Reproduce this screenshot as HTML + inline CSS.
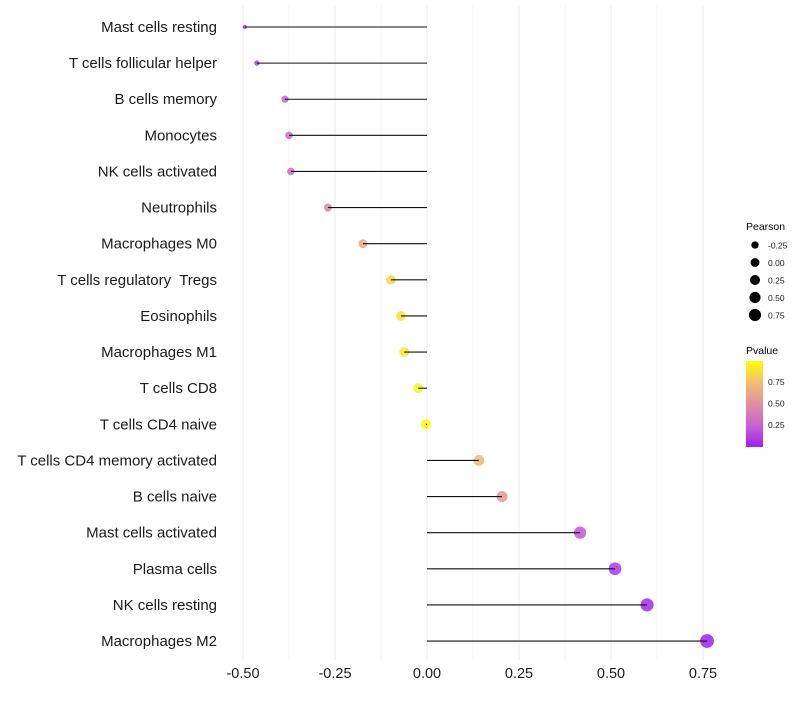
<!DOCTYPE html>
<html><head><meta charset="utf-8"><style>
body{margin:0;background:#fff;font-family:"Liberation Sans",sans-serif}
text{white-space:pre}
</style></head><body>
<svg id="chart" width="800" height="700" xmlns="http://www.w3.org/2000/svg" font-family="Liberation Sans, sans-serif">
<g id="grid"></g><g id="points"></g><g id="stems"></g><g id="ylabels"></g><g id="xticks"></g>
<g id="legend">
<text x="746" y="230" font-size="10.5">Pearson</text>
<g id="sizeLegend"></g>
<text x="746" y="354" font-size="10.5">Pvalue</text>
<defs><linearGradient id="pg" x1="0" y1="1" x2="0" y2="0">
<stop offset="0" stop-color="#A020F0"/><stop offset="0.25" stop-color="#C862D2"/><stop offset="0.5" stop-color="#E0909E"/><stop offset="0.75" stop-color="#F2BE72"/><stop offset="1" stop-color="#FFFF00"/></linearGradient></defs>
<rect x="746" y="361" width="17" height="86" fill="url(#pg)"/>
<g id="colorTicks"></g>
</g>
</svg>
<script>
const categories=["Mast cells resting","T cells follicular helper","B cells memory","Monocytes","NK cells activated","Neutrophils","Macrophages M0","T cells regulatory  Tregs","Eosinophils","Macrophages M1","T cells CD8","T cells CD4 naive","T cells CD4 memory activated","B cells naive","Mast cells activated","Plasma cells","NK cells resting","Macrophages M2"];
const pearson=[-0.495,-0.462,-0.386,-0.375,-0.370,-0.269,-0.174,-0.098,-0.071,-0.062,-0.024,-0.003,0.141,0.204,0.416,0.511,0.598,0.761];
const pvalue=[0.05,0.1,0.25,0.27,0.28,0.45,0.65,0.85,0.88,0.9,0.95,0.99,0.7,0.55,0.2,0.08,0.03,0.001];
const xTicks=[-0.5,-0.25,0,0.25,0.5,0.75];
const xTickLabels=["-0.50","-0.25","0.00","0.25","0.50","0.75"];
const sizeLegendVals=[-0.25,0,0.25,0.5,0.75];
const sizeLegendLabels=["-0.25","0.00","0.25","0.50","0.75"];
const colorTickVals=[0.25,0.5,0.75];
const NS="http://www.w3.org/2000/svg";
const xs=v=>427+v*368;
const ys=i=>27+i*36.12;
const rs=v=>Math.sqrt(Math.max(2,25+30*v-60*Math.max(0,-0.4-v)));
const stops=[[0,[160,32,240]],[0.25,[200,98,210]],[0.5,[224,144,158]],[0.75,[242,190,114]],[1,[255,255,0]]];
function col(p){for(let i=1;i<stops.length;i++){if(p<=stops[i][0]){const a=stops[i-1],b=stops[i];const t=(p-a[0])/(b[0]-a[0]);const c=a[1].map((x,k)=>Math.round(x+(b[1][k]-x)*t));return `rgb(${c})`;}}return "rgb(255,255,0)";}
function mk(t,attrs,parent){const e=document.createElementNS(NS,t);for(const k in attrs)e.setAttribute(k,attrs[k]);document.getElementById(parent).appendChild(e);return e;}
for(let v=-0.5;v<=0.751;v+=0.125){
 const g=mk("line",{x1:xs(v),x2:xs(v),y1:5,y2:660,stroke:Math.abs(v*4-Math.round(v*4))<0.01?"#ebebeb":"#f4f4f4","stroke-width":1},"grid");
 
 
}
categories.forEach((c,i)=>{
 const y=ys(i);
 const p=mk("circle",{cx:xs(pearson[i]),cy:y,r:rs(pearson[i]),fill:col(pvalue[i]),"fill-opacity":0.85},"points");
 
 
 const l=mk("line",{x1:xs(0),x2:xs(pearson[i]),y1:y,y2:y,stroke:"#111","stroke-width":1.1},"stems");
 
 
 const t=mk("text",{x:217,y:y+5,"text-anchor":"end","font-size":15,fill:"#1a1a1a"},"ylabels");
 t.textContent=c;
 
 
});
xTicks.forEach((v,i)=>{
 const t=mk("text",{x:xs(v),y:678,"text-anchor":"middle","font-size":14.5,fill:"#1a1a1a"},"xticks");
 t.textContent=xTickLabels[i];
 
 
});
sizeLegendVals.forEach((v,i)=>{
 const y=245+i*17.5;
 const c=mk("circle",{cx:755,cy:y,r:rs(v)*0.88,fill:"#000"},"sizeLegend");
 
 
 const t=mk("text",{x:768,y:y+3.5,"font-size":8.5,fill:"#1a1a1a"},"sizeLegend");
 t.textContent=sizeLegendLabels[i];
 
 
});
colorTickVals.forEach(v=>{
 const y=446-v*86;
 const t=mk("text",{x:768,y:y+3.5,"font-size":8.5,fill:"#1a1a1a"},"colorTicks");
 t.textContent=v.toFixed(2);
 
 
});
</script>
</body></html>
